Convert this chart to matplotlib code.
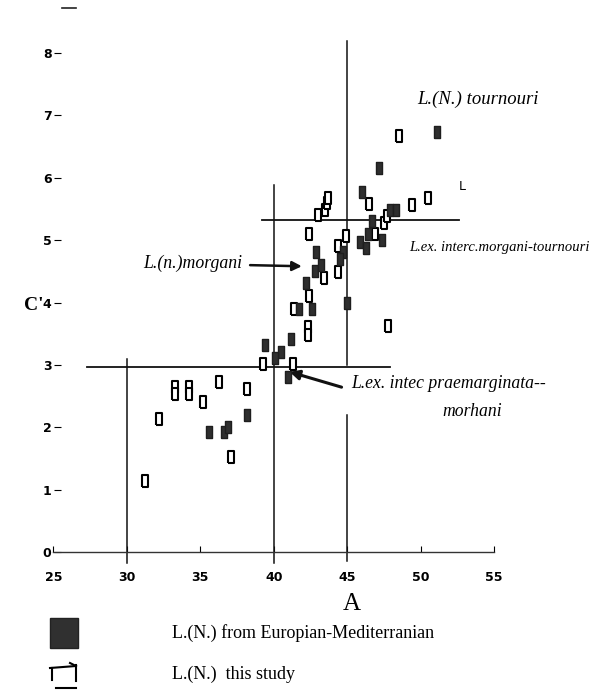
"""
Scatter of C against A for L.(N.) specimens, redrawn from a scanned figure.
"""

import matplotlib
matplotlib.use("Agg")
import matplotlib.pyplot as plt
from matplotlib.lines import Line2D
from matplotlib.patches import Rectangle

# L.(N.) from Europian-Mediterranian (filled squares)
euro_a = [35.6, 36.6, 36.9, 38.2, 41.0, 39.4, 40.5, 40.1, 41.2, 41.7,
          42.6, 42.2, 42.8, 43.2, 42.9, 45.0, 44.7, 44.5, 45.9, 46.3,
          46.4, 46.7, 46.0, 47.2, 47.9, 48.3, 51.1, 47.4]
euro_c = [1.92, 1.92, 2.00, 2.20, 2.81, 3.32, 3.21, 3.11, 3.41, 3.90,
          3.90, 4.31, 4.50, 4.60, 4.81, 3.99, 4.81, 4.69, 4.97, 4.88,
          5.10, 5.30, 5.77, 6.16, 5.48, 5.48, 6.74, 5.00]

# L.(N.) this study (open squares)
study_a = [31.2, 32.2, 33.3, 33.3, 34.2, 34.2, 35.2, 36.3, 38.2, 37.1,
           39.3, 41.3, 41.4, 42.3, 42.3, 42.4, 43.4, 44.4, 42.4, 43.0,
           43.5, 43.6, 43.7, 44.9, 44.4, 46.9, 46.5, 47.5, 47.7, 49.4,
           50.5, 48.5, 47.8]
study_c = [1.14, 2.14, 2.65, 2.53, 2.65, 2.53, 2.41, 2.72, 2.62, 1.52,
           3.01, 3.01, 3.90, 3.61, 3.48, 4.11, 4.39, 4.49, 5.10, 5.41,
           5.49, 5.60, 5.68, 5.06, 4.90, 5.10, 5.58, 5.28, 5.38, 5.56,
           5.67, 6.67, 3.63]

x_ticks = [25, 30, 35, 40, 45, 50, 55]
y_ticks = [0, 1, 2, 3, 4, 5, 6, 7, 8]

# boundary lines (position, from, to)
v_lines = [(30, -0.18, 3.1), (40, -0.18, 5.88), (45, 3.0, 8.2), (45, -0.15, 2.2)]
h_lines = [(2.96, 27.3, 47.9), (5.32, 39.2, 52.6)]

narrow = ["Liberation Sans Narrow", "DejaVu Sans"]
serif = ["Liberation Serif", "DejaVu Serif"]

W, H = 592, 692
fig = plt.figure(figsize=(W / 100, H / 100), dpi=100)
ax = fig.add_axes([53.5 / W, 1 - 552 / H, (494 - 53.5) / W, (552 - 53) / H])
ax.set_xlim(25, 55)
ax.set_ylim(0, 8)

box = [(-0.3, -0.5), (0.3, -0.5), (0.3, 0.5), (-0.3, 0.5), (-0.3, -0.5)]

for x, y0, y1 in v_lines:
    ax.plot([x, x], [y0, y1], color="#111111", lw=1.1, clip_on=False)
for y, x0, x1 in h_lines:
    ax.plot([x0, x1], [y, y], color="#111111", lw=1.3, clip_on=False)

ax.plot(study_a, study_c, linestyle="none", marker=box, markersize=8,
        markerfacecolor="white", markeredgecolor="black", markeredgewidth=1.5,
        clip_on=False, zorder=3)
ax.plot(euro_a, euro_c, linestyle="none", marker=box, markersize=8,
        markerfacecolor="#2e2e2e", markeredgecolor="#1e1e1e", markeredgewidth=1,
        clip_on=False, zorder=4)

for s in ["top", "right", "left"]:
    ax.spines[s].set_visible(False)
ax.spines["bottom"].set_linewidth(1.0)
ax.spines["bottom"].set_color("#333333")

ax.set_xticks(x_ticks)
ax.set_yticks(y_ticks)
ax.set_xticklabels([str(t) for t in x_ticks], family=narrow, fontweight="bold", fontsize=9)
ax.set_yticklabels([str(t) for t in y_ticks], family=narrow, fontweight="bold", fontsize=9)
ax.tick_params(axis="x", direction="in", length=4, width=0.8, pad=14)
ax.tick_params(axis="y", direction="in", length=5, width=0.8, pad=1.5)

ax.text(49.8, 7.18, "L.(N.) tournouri", family=serif, style="italic", fontsize=13.5)
ax.text(49.25, 4.82, "L.ex. interc.morgani-tournouri", family=serif, style="italic", fontsize=10.5)
ax.text(31.1, 4.55, "L.(n.)morgani", family=serif, style="italic", fontsize=12.8)
ax.text(45.3, 2.63, "L.ex. intec praemarginata--", family=serif, style="italic", fontsize=12.7)
ax.text(53.5, 2.18, "morhani", family=serif, style="italic", fontsize=12.7, ha="center")
ax.text(52.6, 5.8, "L", family=narrow, fontsize=9)

ax.annotate("", xy=(42.1, 4.58), xytext=(38.2, 4.6),
            arrowprops=dict(arrowstyle="-|>", color="#111111", lw=1.8, mutation_scale=14))
ax.annotate("", xy=(40.9, 2.9), xytext=(44.8, 2.63),
            arrowprops=dict(arrowstyle="-|>", color="#111111", lw=2.2, mutation_scale=14))

ax.set_xlabel("A", family=serif, fontsize=18, labelpad=0)
ax.xaxis.set_label_coords((352 - 53.5) / (494 - 53.5), -0.082)
ax.set_ylabel("C'", family=serif, fontsize=14, fontweight="bold", rotation=0, labelpad=0)
ax.yaxis.set_label_coords(-0.045, 0.477)

# legend drawn in pixel positions of the page
def px(x, y):
    return x / W, 1 - y / H

fig.add_artist(Rectangle(px(50, 648), 28 / W, 30 / H, transform=fig.transFigure,
                         facecolor="#303030", edgecolor="#222222"))
legend_open = [[(50, 668), (76, 666)], [(52, 668), (52, 680)], [(76, 665), (76, 681)],
               [(56, 688), (76, 688)], [(70, 663), (76, 666)]]
for seg in legend_open:
    xs, ys = zip(*[px(*p) for p in seg])
    fig.add_artist(Line2D(xs, ys, transform=fig.transFigure, color="black", lw=1.5))
fig.text(*px(172, 633), "L.(N.) from Europian-Mediterranian", family=serif,
         fontsize=13, va="center")
fig.text(*px(172, 674), "L.(N.)  this study", family=serif, fontsize=13, va="center")

# stray mark at the top of the scan
xs, ys = zip(px(62, 8), px(76, 8))
fig.add_artist(Line2D(xs, ys, transform=fig.transFigure, color="#222222", lw=1.2))

fig.savefig("out.png", dpi=100)
